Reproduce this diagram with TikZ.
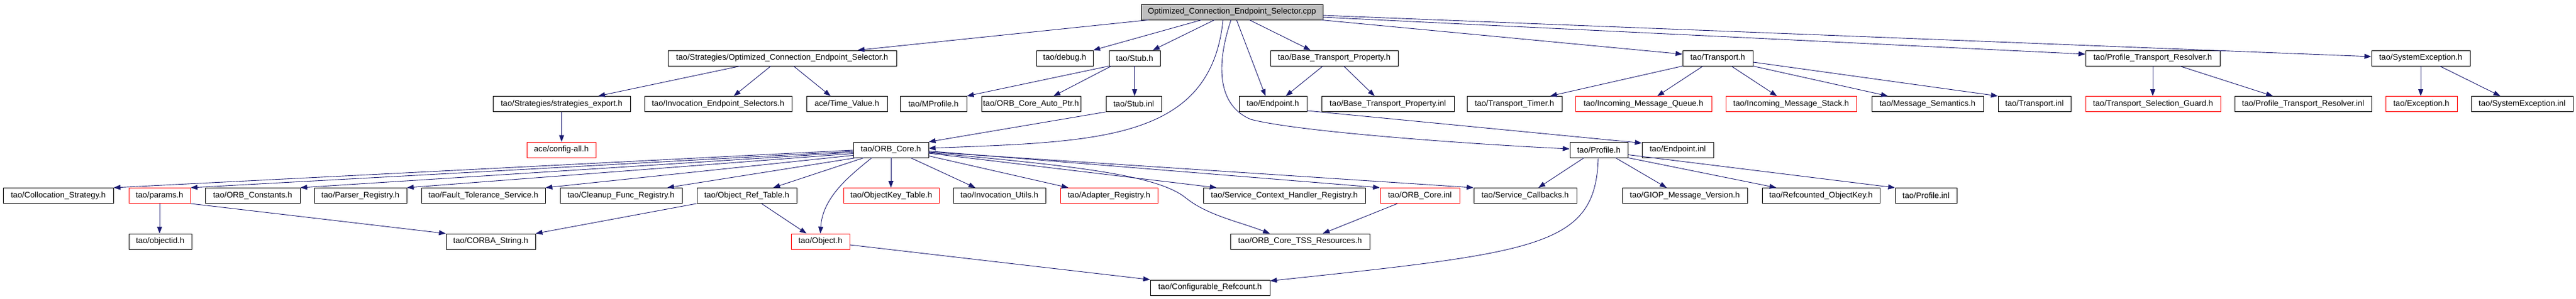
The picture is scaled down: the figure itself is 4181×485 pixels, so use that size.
\documentclass[tikz,border=0pt]{standalone}
\usepackage{fontspec}
\setmainfont{Liberation Sans}
\usetikzlibrary{arrows.meta,calc}
\definecolor{edgecol}{HTML}{191970}
\definecolor{cppfill}{HTML}{BFBFBF}
\begin{document}
\begin{tikzpicture}[x=1pt,y=-1pt,
  box/.style={draw=black,line width=0.9pt,rectangle,inner sep=0pt,minimum height=25pt,fill=white,font=\fontsize{13.2}{15}\selectfont},
  redbox/.style={box,draw=red},
  e/.style={draw=edgecol,line width=0.9pt,-{Triangle[length=11pt,width=8pt]}}]
\fill[white] (0,0) rectangle (4181,485);
\useasboundingbox (0,0) rectangle (4181,485);
% row 0
\node[box,fill=cppfill,minimum width=295pt] (cpp) at (1999.5,19.5) {Optimized\_Connection\_Endpoint\_Selector.cpp};
% row 1
\node[box,minimum width=371pt] (oces) at (1269.5,94.5) {tao/Strategies/Optimized\_Connection\_Endpoint\_Selector.h};
\node[box,minimum width=92pt] (debug) at (1728,94.5) {tao/debug.h};
\node[box,minimum width=83pt] (stub) at (1841.5,94.5) {tao/Stub.h};
\node[box,minimum width=207pt] (btp) at (2165.5,94.5) {tao/Base\_Transport\_Property.h};
\node[box,minimum width=114pt] (transport) at (2788,94.5) {tao/Transport.h};
\node[box,minimum width=218pt] (ptr) at (3494,94.5) {tao/Profile\_Transport\_Resolver.h};
\node[box,minimum width=160pt] (sysexc) at (3929,94.5) {tao/SystemException.h};
% row 2
\node[box,minimum width=223pt] (strexp) at (911.5,169) {tao/Strategies/strategies\_export.h};
\node[box,minimum width=239pt] (ies) at (1165.5,169) {tao/Invocation\_Endpoint\_Selectors.h};
\node[box,minimum width=131pt] (timeval) at (1374.5,169) {ace/Time\_Value.h};
\node[box,minimum width=108pt] (mprofile) at (1515,169) {tao/MProfile.h};
\node[box,minimum width=161pt] (coreauto) at (1673.5,169) {tao/ORB\_Core\_Auto\_Ptr.h};
\node[box,minimum width=90pt] (stubinl) at (1840,169) {tao/Stub.inl};
\node[box,minimum width=110pt] (endpoint) at (2066,169) {tao/Endpoint.h};
\node[box,minimum width=215pt] (btpinl) at (2252.5,169) {tao/Base\_Transport\_Property.inl};
\node[box,minimum width=154pt] (ttimer) at (2458,169) {tao/Transport\_Timer.h};
\node[redbox,minimum width=221pt] (imq) at (2667.5,169) {tao/Incoming\_Message\_Queue.h};
\node[redbox,minimum width=212pt] (ims) at (2907,169) {tao/Incoming\_Message\_Stack.h};
\node[box,minimum width=181pt] (msgsem) at (3128.5,169) {tao/Message\_Semantics.h};
\node[box,minimum width=118pt] (transinl) at (3302,169) {tao/Transport.inl};
\node[redbox,minimum width=219pt] (tsg) at (3494.5,169) {tao/Transport\_Selection\_Guard.h};
\node[box,minimum width=222pt] (ptrinl) at (3738,169) {tao/Profile\_Transport\_Resolver.inl};
\node[redbox,minimum width=116pt] (exc) at (3930,169) {tao/Exception.h};
\node[box,minimum width=165pt] (sysinl) at (4093.5,169) {tao/SystemException.inl};
% row 3
\node[redbox,minimum width=112pt] (config) at (911,243.5) {ace/config-all.h};
\node[box,minimum width=122pt] (orbcore) at (1446,243.5) {tao/ORB\_Core.h};
\node[box,minimum width=94pt] (profile) at (2595,243.5) {tao/Profile.h};
\node[box,minimum width=116pt] (epinl) at (2723,243.5) {tao/Endpoint.inl};
% row 4
\node[box,minimum width=179pt] (colloc) at (94.5,318) {tao/Collocation\_Strategy.h};
\node[redbox,minimum width=100pt] (params) at (259,318) {tao/params.h};
\node[box,minimum width=154pt] (orbconst) at (410,318) {tao/ORB\_Constants.h};
\node[box,minimum width=150pt] (parser) at (585,318) {tao/Parser\_Registry.h};
\node[box,minimum width=201pt] (fts) at (784.5,318) {tao/Fault\_Tolerance\_Service.h};
\node[box,minimum width=198pt] (cleanup) at (1008,318) {tao/Cleanup\_Func\_Registry.h};
\node[box,minimum width=162pt] (ort) at (1212,318) {tao/Object\_Ref\_Table.h};
\node[redbox,minimum width=155pt] (okt) at (1446.5,318) {tao/ObjectKey\_Table.h};
\node[box,minimum width=150pt] (invutils) at (1622,318) {tao/Invocation\_Utils.h};
\node[redbox,minimum width=158pt] (adapter) at (1800,318) {tao/Adapter\_Registry.h};
\node[box,minimum width=263pt] (schr) at (2084.5,318) {tao/Service\_Context\_Handler\_Registry.h};
\node[redbox,minimum width=129pt] (coreinl) at (2304.5,318) {tao/ORB\_Core.inl};
\node[box,minimum width=167pt] (svccb) at (2475.5,318) {tao/Service\_Callbacks.h};
\node[box,minimum width=203pt] (giop) at (2734.5,318) {tao/GIOP\_Message\_Version.h};
\node[box,minimum width=191pt] (rok) at (2955.5,318) {tao/Refcounted\_ObjectKey.h};
\node[box,minimum width=100pt] (profinl) at (3126,318) {tao/Profile.inl};
% row 5
\node[box,minimum width=102pt] (objectid) at (260,392.5) {tao/objectid.h};
\node[box,minimum width=145pt] (corbastr) at (796.5,392.5) {tao/CORBA\_String.h};
\node[redbox,minimum width=95pt] (object) at (1331.5,392.5) {tao/Object.h};
\node[box,minimum width=226pt] (tss) at (2110,392.5) {tao/ORB\_Core\_TSS\_Resources.h};
% row 6
\node[box,minimum width=194pt] (refcount) at (1964,467.5) {tao/Configurable\_Refcount.h};
% edges from cpp
\draw[e] ($(cpp.south)+(-135.5,0)$) -- ($(oces.north)+(122.5,0)$);
\draw[e] ($(cpp.south)+(-49.5,0)$) -- (debug.north east);
\draw[e] ($(cpp.south)+(-28.5,0)$) -- ($(stub.north)+(29.5,0)$);
\draw[e] ($(cpp.south)+(-14.5,0)$) .. controls (1965,230) and (1780,230) .. ($(orbcore.east)+(0,-2.5)$);
\draw[e] ($(cpp.south)+(-1.5,0)$) .. controls (1972,110) and (1978,172) .. (2030,194) .. controls (2110,215) and (2400,235) .. ($(profile.west)+(0,-1.5)$);
\draw[e] ($(cpp.south)+(7.5,0)$) -- ($(endpoint.north)+(-12,0)$);
\draw[e] ($(cpp.south)+(28.5,0)$) -- ($(btp.north)+(-38.5,0)$);
\draw[e] ($(cpp.south east)+(-3,0)$) -- ($(transport.west)+(0,-6.5)$);
\draw[e] ($(cpp.east)+(0,8.5)$) -- ($(ptr.west)+(0,-6.5)$);
\draw[e] ($(cpp.east)+(0,5.5)$) -- ($(sysexc.west)+(0,-2.5)$);
% oces
\draw[e] ($(oces.south)+(-68.5,0)$) -- ($(strexp.north)+(59.5,0)$);
\draw[e] ($(oces.south)+(-18.5,0)$) -- ($(ies.north)+(25.5,0)$);
\draw[e] ($(oces.south)+(18.5,0)$) -- ($(timeval.north)+(-26.5,0)$);
\draw[e] (strexp.south) -- (strexp.south |- config.north);
% stub
\draw[e] (stub.south west) -- (mprofile.north east);
\draw[e] ($(stub.south west)+(4,0)$) -- ($(coreauto.north)+(36.5,0)$);
\draw[e] (stub.south) -- (stub.south |- stubinl.north);
\draw[e] (stubinl.south west) -- (orbcore.north east);
% btp
\draw[e] ($(btp.south)+(-18.5,0)$) -- ($(endpoint.north)+(21,0)$);
\draw[e] ($(btp.south)+(15.5,0)$) -- ($(btpinl.north)+(-21.5,0)$);
\draw[e] ($(endpoint.south east)+(0,-2)$) -- ($(epinl.north west)+(0,2)$);
% transport
\draw[e] (transport.south west) -- ($(ttimer.north)+(58,0)$);
\draw[e] ($(transport.south)+(-24,0)$) -- ($(imq.north)+(22.5,0)$);
\draw[e] ($(transport.south)+(22,0)$) -- ($(ims.north)+(-23,0)$);
\draw[e] (transport.south east) -- ($(msgsem.north)+(-64.5,0)$);
\draw[e] ($(transport.east)+(0,6.5)$) -- (transinl.north west);
% ptr, sysexc
\draw[e] (ptr.south) -- (ptr.south |- tsg.north);
\draw[e] ($(ptr.south)+(44,0)$) -- ($(ptrinl.north)+(-49,0)$);
\draw[e] (sysexc.south) -- (sysexc.south |- exc.north);
\draw[e] ($(sysexc.south)+(31,0)$) -- ($(sysinl.north)+(-35.5,0)$);
% orbcore
\draw[e] ($(orbcore.west)+(0,0.5)$) -- (colloc.north east);
\draw[e] ($(orbcore.west)+(0,2.5)$) -- (params.north east);
\draw[e] ($(orbcore.west)+(0,4)$) -- (orbconst.north east);
\draw[e] ($(orbcore.west)+(0,6)$) -- (parser.north east);
\draw[e] ($(orbcore.west)+(0,9)$) -- (fts.north east);
\draw[e] ($(orbcore.south west)+(5,0)$) -- ($(cleanup.north)+(75,0)$);
\draw[e] ($(orbcore.south)+(-44,0)$) -- ($(ort.north)+(43,0)$);
\draw[e] ($(orbcore.south)+(-31,0)$) .. controls (1380,285) and (1335,320) .. (object.north);
\draw[e] (orbcore.south) -- (orbcore.south |- okt.north);
\draw[e] ($(orbcore.south)+(32,0)$) -- ($(invutils.north)+(-39,0)$);
\draw[e] ($(orbcore.south east)+(0,-3)$) -- ($(adapter.north)+(-66,0)$);
\draw[e] ($(orbcore.east)+(0,5.5)$) -- ($(schr.north west)+(22,0)$);
\draw[e] ($(orbcore.east)+(0,2)$) -- (coreinl.north west);
\draw[e] ($(orbcore.east)+(0,3.5)$) -- (svccb.north west);
\draw[e] ($(orbcore.east)+(0,4.5)$) .. controls (1750,270) and (1880,285) .. (1925,322) .. controls (1960,350) and (2010,360) .. ($(tss.north)+(-49,0)$);
% lower
\draw[e] (params.south) -- (params.south |- objectid.north);
\draw[e] (params.south east) -- (corbastr.north west);
\draw[e] (ort.south west) -- (corbastr.north east);
\draw[e] ($(ort.south)+(24,0)$) -- ($(object.north)+(-22.5,0)$);
\draw[e] ($(object.east)+(0,5.5)$) -- (refcount.north west);
\draw[e] ($(coreinl.south)+(-36.5,0)$) -- ($(tss.north)+(37,0)$);
% profile
\draw[e] ($(profile.south)+(-24,0)$) -- ($(svccb.north)+(21.5,0)$);
\draw[e] ($(profile.south)+(27,0)$) -- ($(giop.north)+(-29.5,0)$);
\draw[e] (profile.south east) -- ($(rok.north)+(-72.5,0)$);
\draw[e] ($(profile.east)+(0,8)$) -- (profinl.north west);
\draw[e] ($(profile.south)+(-1,0)$) .. controls (2590,400) and (2500,410) .. ($(refcount.north east)+(0,2)$);
\end{tikzpicture}
\end{document}
